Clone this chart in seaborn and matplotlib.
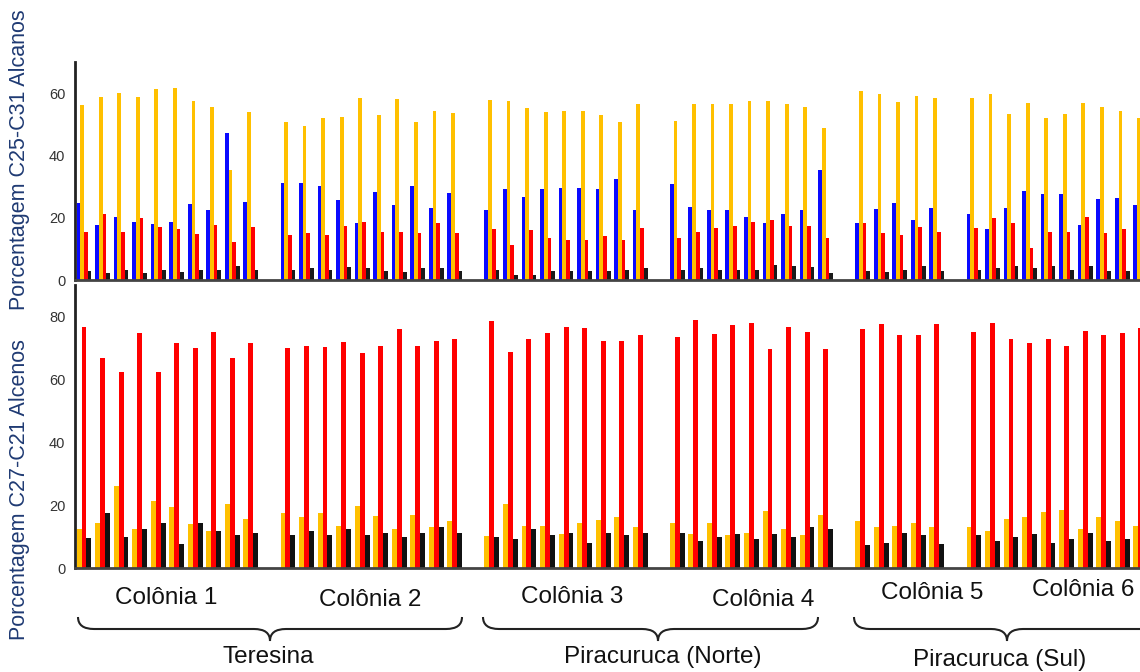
import numpy as np
import pandas as pd
import matplotlib
matplotlib.use("Agg")
import matplotlib.pyplot as plt
import seaborn as sns
from matplotlib.path import Path
from matplotlib.patches import PathPatch

# ---- data ----
colonias = ["Colônia 1", "Colônia 2", "Colônia 3", "Colônia 4", "Colônia 5", "Colônia 6"]
amostras = [10, 10, 9, 9, 5, 10]
regioes = ["Teresina", "Piracuruca (Norte)", "Piracuruca (Sul)"]

# top panel: C25-C31 alcanos
alc_azul = [24.8, 17.6, 20.1, 18.7, 18.1, 18.7, 24.4, 22.5, 47.3, 25.1,
            31.0, 31.1, 30.3, 25.7, 18.2, 28.3, 24.0, 30.3, 23.2, 27.8,
            22.5, 29.1, 26.7, 29.1, 29.7, 29.6, 29.1, 32.3, 22.5,
            30.8, 23.3, 22.5, 22.5, 20.1, 18.2, 21.2, 22.5, 35.3,
            18.2, 22.8, 24.6, 19.2, 23.2,
            21.2, 16.3, 23.2, 28.6, 27.6, 27.6, 17.6, 25.9, 26.2, 24.1]
alc_amarelo = [56.1, 58.8, 60.2, 58.8, 61.2, 61.8, 57.5, 55.6, 35.3, 53.8,
               50.6, 49.4, 51.9, 52.2, 58.6, 52.9, 58.0, 50.6, 54.2, 53.7,
               57.7, 57.4, 55.1, 53.8, 54.2, 54.3, 52.9, 50.6, 56.4,
               51.1, 56.4, 56.4, 56.4, 57.5, 57.4, 56.4, 55.4, 48.9,
               60.6, 59.7, 57.0, 59.0, 58.3,
               58.3, 59.6, 53.3, 56.9, 51.9, 53.3, 56.9, 55.4, 54.2, 51.9]
alc_vermelho = [15.5, 21.2, 15.5, 19.8, 16.9, 16.3, 14.8, 17.6, 12.3, 16.9,
                14.4, 15.0, 14.4, 17.4, 18.7, 15.5, 15.5, 15.0, 18.2, 15.0,
                16.3, 11.2, 16.2, 13.6, 12.8, 12.8, 14.2, 13.0, 16.6,
                13.6, 15.3, 16.8, 17.4, 18.5, 19.2, 17.4, 17.4, 13.5,
                18.2, 15.0, 14.4, 16.9, 15.5,
                16.6, 19.8, 18.2, 10.2, 15.5, 15.3, 20.3, 15.0, 16.3, 16.0]
alc_preto = [3.0, 2.4, 3.2, 2.4, 3.3, 2.7, 3.2, 3.3, 4.5, 3.3,
             3.2, 3.8, 3.2, 4.3, 3.7, 2.9, 2.5, 3.7, 3.7, 2.9,
             3.2, 1.6, 1.6, 3.0, 2.8, 2.8, 3.0, 3.3, 3.8,
             3.3, 3.8, 3.3, 3.3, 3.3, 4.8, 4.5, 4.1, 2.4,
             2.9, 2.5, 3.3, 4.5, 2.9,
             3.3, 3.8, 4.6, 3.7, 4.6, 3.3, 4.6, 2.9, 2.9, 3.0]

# bottom panel: C27-C21 alcenos
alq_amarelo = [12.3, 14.2, 26.1, 12.3, 21.4, 19.3, 14.1, 11.7, 20.5, 15.5,
               17.6, 16.1, 17.4, 13.5, 19.8, 16.5, 12.3, 16.8, 12.9, 14.9,
               10.2, 20.5, 13.5, 13.5, 10.8, 14.2, 15.2, 16.1, 12.9,
               14.2, 10.7, 14.2, 10.5, 11.0, 18.1, 12.3, 10.5, 16.7,
               14.9, 12.9, 13.5, 14.2, 12.9,
               12.9, 11.7, 15.5, 16.3, 17.8, 18.6, 12.3, 16.1, 14.8, 13.5]
alq_vermelho = [76.6, 66.9, 62.3, 74.7, 62.3, 71.5, 70.1, 75.0, 66.9, 71.5,
                70.1, 70.6, 70.3, 72.0, 68.4, 70.6, 75.9, 70.6, 72.2, 72.9,
                78.5, 68.7, 72.9, 74.8, 76.6, 76.2, 72.2, 72.2, 74.2,
                73.4, 79.0, 74.3, 77.4, 78.0, 69.7, 76.6, 75.0, 69.7,
                76.0, 77.7, 74.2, 74.2, 77.7,
                75.0, 77.9, 72.8, 71.5, 72.8, 70.5, 75.3, 74.2, 74.7, 76.2]
alq_preto = [9.4, 17.6, 9.7, 12.3, 14.2, 7.6, 14.2, 11.7, 10.5, 11.0,
             10.5, 11.7, 10.5, 12.5, 10.5, 11.2, 9.9, 11.0, 12.9, 11.0,
             9.9, 9.1, 12.3, 10.5, 11.0, 7.8, 11.0, 10.5, 11.2,
             11.0, 8.6, 9.9, 10.8, 9.3, 10.8, 9.7, 12.9, 12.3,
             7.3, 7.8, 11.0, 10.5, 7.6,
             10.5, 8.7, 9.9, 10.7, 7.8, 9.3, 11.0, 8.7, 9.1, 10.0]

# ---- slots: one empty slot between colonies ----
slots, amostra_slot = [], []
k = 0
for i, n in enumerate(amostras):
    for j in range(n):
        slots.append(f"s{k}")
        amostra_slot.append(f"s{k}")
        k += 1
    if i < len(amostras) - 1:
        slots.append(f"s{k}")  # gap
        k += 1


def long_df(series):
    frames = []
    for nome, vals in series.items():
        frames.append(pd.DataFrame({"slot": amostra_slot, "serie": nome, "valor": vals}))
    return pd.concat(frames, ignore_index=True)


df_top = long_df({"azul": alc_azul, "amarelo": alc_amarelo,
                  "vermelho": alc_vermelho, "preto": alc_preto})
df_bot = long_df({"amarelo": alq_amarelo, "vermelho": alq_vermelho, "preto": alq_preto})

sns.set_style("white")
plt.rcParams["font.family"] = ["Liberation Sans", "DejaVu Sans"]

W, H = 1140, 672
fig = plt.figure(figsize=(W / 100, H / 100), dpi=100)


def fx(px):
    return px / W


def fy(py):
    return 1 - py / H


ax1 = fig.add_axes([fx(75), fy(280), 1 - fx(75), (280 - 62) / H])
ax2 = fig.add_axes([fx(75), fy(568), 1 - fx(75), (568 - 285) / H])

sns.barplot(data=df_top, x="slot", y="valor", hue="serie", order=slots,
            hue_order=["azul", "amarelo", "vermelho", "preto"],
            palette=["#0a0aff", "#ffc000", "#ff0000", "#1a1a1a"],
            saturation=1, errorbar=None, width=0.8, legend=False, ax=ax1,
            linewidth=0, edgecolor="none")
sns.barplot(data=df_bot, x="slot", y="valor", hue="serie", order=slots,
            hue_order=["amarelo", "vermelho", "preto"],
            palette=["#ffc000", "#ff0000", "#111111"],
            saturation=1, errorbar=None, width=0.8, legend=False, ax=ax2,
            linewidth=0, edgecolor="none")

x_left = -9 / 18.54
x_right = (W - 84) / 18.54
for ax, ytop, ticks in [(ax1, 70, [0, 20, 40, 60]), (ax2, 90, [0, 20, 40, 60, 80])]:
    ax.set_xlim(x_left, x_right)
    ax.set_ylim(0, ytop)
    ax.set_yticks(ticks)
    ax.set_xticks([])
    ax.set_xlabel("")
    ax.set_ylabel("")
    for s in ["top", "right"]:
        ax.spines[s].set_visible(False)
    ax.spines["left"].set_color("#222222")
    ax.spines["left"].set_linewidth(2)
    ax.spines["bottom"].set_color("#444444")
    ax.spines["bottom"].set_linewidth(2)
    ax.tick_params(axis="y", length=4, width=1, color="#444444",
                   labelsize=10.5, labelcolor="#333333", pad=3)
    ax.set_facecolor("none")

# y labels
fig.text(fx(20), fy(160), "Porcentagem C25-C31 Alcanos", rotation=90,
         ha="center", va="center", fontsize=15.5, color="#1f3a73")
fig.text(fx(20), fy(490), "Porcentagem C27-C21 Alcenos", rotation=90,
         ha="center", va="center", fontsize=15.5, color="#1f3a73")

# colony labels
col_pos = [(166, 598), (370, 600), (572, 597), (763, 600), (932, 593), (1083, 590)]
for nome, (px, py) in zip(colonias, col_pos):
    fig.text(fx(px), fy(py), nome, ha="center", va="center", fontsize=17.5, color="#111111")


# braces
def chave(x0, xt, x1, ytop=617, ymid=629, ybot=641, r=16):
    pts = [(x0, ytop), (x0, ymid), (x0 + r, ymid),
           (xt - r, ymid), (xt, ymid), (xt, ybot),
           (xt, ymid), (xt + r, ymid),
           (x1 - r, ymid), (x1, ymid), (x1, ytop)]
    codes = [Path.MOVETO, Path.CURVE3, Path.CURVE3,
             Path.LINETO, Path.CURVE3, Path.CURVE3,
             Path.CURVE3, Path.CURVE3,
             Path.LINETO, Path.CURVE3, Path.CURVE3]
    verts = [(fx(a), fy(b)) for a, b in pts]
    fig.add_artist(PathPatch(Path(verts, codes), fill=False, lw=1.5,
                             edgecolor="#222222", transform=fig.transFigure))


chave(78, 270, 462)
chave(483, 658, 818)
chave(854, 1007, 1160)

reg_pos = [(268, 657), (663, 657), (1000, 660)]
for nome, (px, py) in zip(regioes, reg_pos):
    fig.text(fx(px), fy(py), nome, ha="center", va="center", fontsize=17.5, color="#111111")

fig.savefig("out.png", dpi=100)
